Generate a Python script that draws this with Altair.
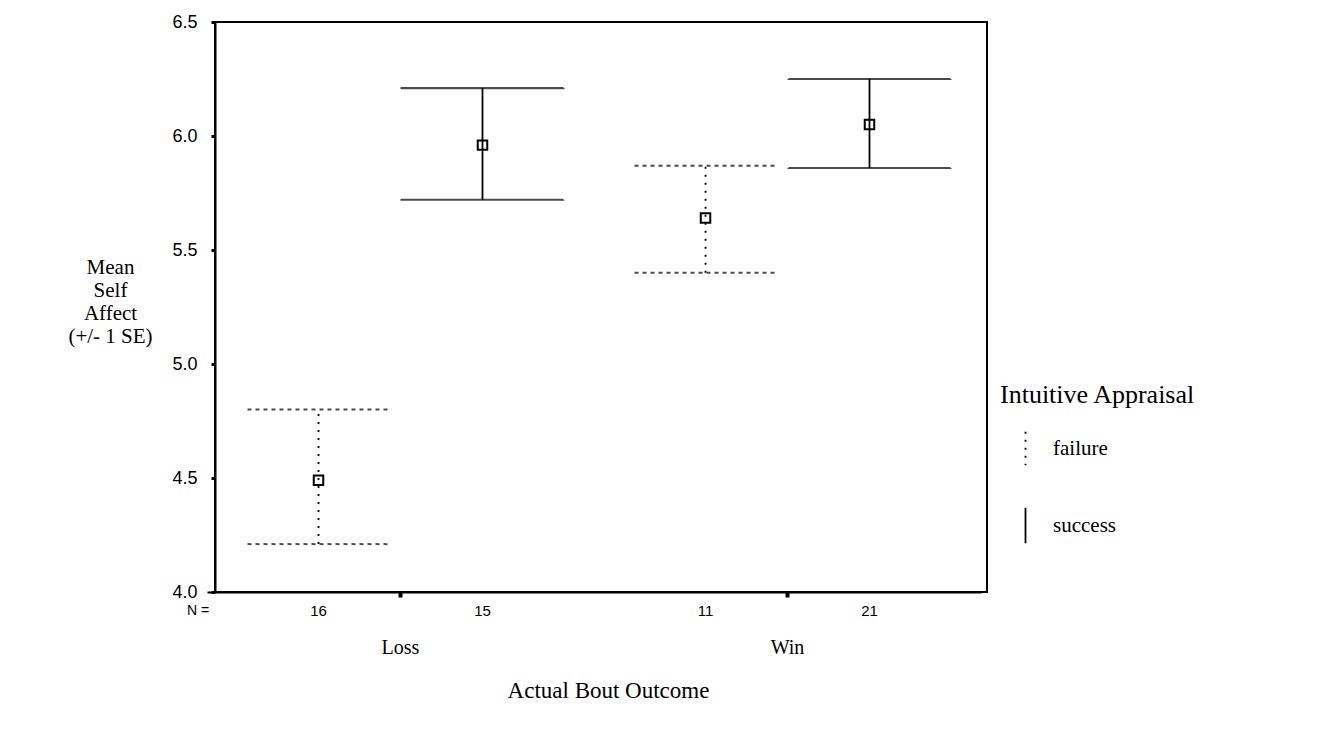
import altair as alt
import pandas as pd

# ---- data ----
outcome = ["Loss", "Loss", "Win", "Win"]
appraisal = ["failure", "success", "failure", "success"]
mean_affect = [4.49, 5.96, 5.64, 6.05]
lower_se = [4.21, 5.72, 5.40, 5.86]
upper_se = [4.80, 6.21, 5.87, 6.25]
n_count = [16, 15, 11, 21]
y_ticks = [4.0, 4.5, 5.0, 5.5, 6.0, 6.5]
n_prefix = ["N ="]
outcome_order = ["Loss", "Win"]
appraisal_order = ["failure", "success"]

df = pd.DataFrame({
    "Outcome": outcome,
    "Appraisal": appraisal,
    "Mean": mean_affect,
    "Lower": lower_se,
    "Upper": upper_se,
    "N": [str(v) for v in n_count],
})

W, H = 772, 570
SERIF = "Liberation Serif"
SANS = "Liberation Sans"

x_scale = alt.Scale(domain=outcome_order, range=[-8, 766], paddingInner=0, paddingOuter=0)
xoff_scale = alt.Scale(domain=appraisal_order, paddingInner=0, paddingOuter=0.18)
dash_scale = alt.Scale(domain=appraisal_order, range=[[2, 6], [1, 0]])

x_axis = alt.Axis(
    title="Actual Bout Outcome", labelAngle=0, labelFont=SERIF, labelFontSize=20,
    labelColor="black", labelPadding=40, tickSize=5, tickWidth=4, tickColor="black",
    domainColor="black", domainWidth=2, titleFont=SERIF, titleFontSize=23,
    titleFontWeight="normal", titleColor="black", titleY=98, titleX=393,
    titleBaseline="middle", bandPosition=0.5,
)
y_axis = alt.Axis(
    values=y_ticks, format=".1f", labelFont=SANS, labelFontSize=18, labelColor="black",
    labelPadding=14, tickSize=4, tickWidth=3, tickColor="black", domainColor="black",
    domainWidth=2, title=["Mean", "Self", "Affect", "(+/- 1 SE)"], titleAngle=0,
    titleAlign="center", titleBaseline="top", titleX=-105, titleY=234,
    titleLineHeight=23, titleFont=SERIF, titleFontSize=21, titleFontWeight="normal",
    titleColor="black", grid=False,
)

base = alt.Chart(df)
x_enc = alt.X("Outcome:N", scale=x_scale, axis=x_axis)
xo_enc = alt.XOffset("Appraisal:N", scale=xoff_scale)
y_scale = alt.Scale(domain=[4.0, 6.5], nice=False, zero=False)

stems = base.mark_rule(color="black", strokeWidth=1.8).encode(
    x=x_enc,
    xOffset=xo_enc,
    y=alt.Y("Lower:Q", scale=y_scale, axis=y_axis),
    y2="Upper:Q",
    strokeDash=alt.StrokeDash(
        "Appraisal:N", scale=dash_scale,
        legend=alt.Legend(
            title="Intuitive Appraisal", orient="none", legendX=785, legendY=360,
            titleFont=SERIF, titleFontSize=26, titleFontWeight="normal", titleColor="black",
            titleLimit=400, titlePadding=30, labelFont=SERIF, labelFontSize=21,
            labelColor="black", symbolType="M0,-2.8L0,2.8", symbolSize=900,
            symbolStrokeWidth=1.8, symbolStrokeColor="black", symbolOffset=15,
            labelOffset=17, rowPadding=35,
        ),
    ),
)

caps = base.transform_fold(["Lower", "Upper"], as_=["bound", "val"]).mark_tick(
    filled=False, stroke="black", thickness=0.01, strokeWidth=2
).encode(
    x=x_enc,
    xOffset=xo_enc,
    y=alt.Y("val:Q", scale=y_scale),
    size=alt.Size("Appraisal:N", scale=alt.Scale(domain=appraisal_order, range=[142, 162]), legend=None),
    strokeDash=alt.StrokeDash("Appraisal:N", scale=dash_scale, legend=None),
)

points = base.mark_point(shape="square", filled=False, size=90, strokeWidth=2, color="black", opacity=1).encode(
    x=x_enc,
    xOffset=xo_enc,
    y=alt.Y("Mean:Q", scale=y_scale),
)

n_labels = base.mark_text(font=SANS, fontSize=15, color="black", baseline="middle").encode(
    x=x_enc,
    xOffset=xo_enc,
    y=alt.value(H + 19),
    text="N:N",
)

n_prefix_label = alt.Chart(pd.DataFrame({"t": n_prefix})).mark_text(
    font=SANS, fontSize=14, color="black", baseline="middle", align="center"
).encode(x=alt.value(-17), y=alt.value(H + 19), text="t:N")

chart = alt.layer(stems, caps, points, n_labels, n_prefix_label).properties(
    width=W, height=H,
    autosize=alt.AutoSizeParams(type="none"),
    padding={"left": 215, "top": 22, "right": 1319 - 215 - W, "bottom": 731 - 22 - H},
    background="white",
).configure_view(stroke="black", strokeWidth=2).configure_axis(grid=False)

chart.save("out.html", embed_options={"renderer": "svg", "actions": False})
